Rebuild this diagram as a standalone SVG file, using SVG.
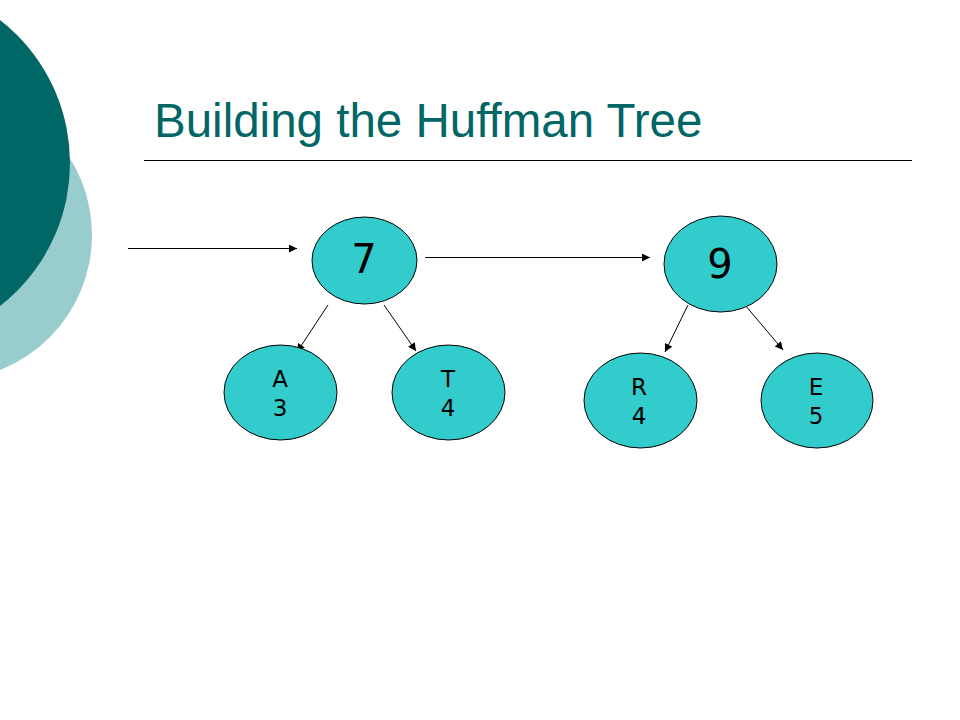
<svg xmlns="http://www.w3.org/2000/svg" width="960" height="720" viewBox="0 0 960 720">
<defs>
<marker id="ah" viewBox="0 0 10 10" refX="10" refY="5" markerWidth="10" markerHeight="8" markerUnits="userSpaceOnUse" orient="auto">
<path d="M0,0 L10,5 L0,10 z" fill="#000"/>
</marker>
<style>
.node ellipse{fill:#33CCCC;stroke:#000;stroke-width:1}
.node text{font-family:"DejaVu Sans","Verdana",sans-serif;fill:#000;text-anchor:middle}
.conn line{stroke:#000;stroke-width:1;marker-end:url(#ah)}
.small{font-size:23px}
.big{font-size:40px}
</style>
</defs>
<rect width="960" height="720" fill="#fff"/>
<g id="decor">
<circle cx="-53" cy="235" r="145" fill="#99CCCC"/>
<circle cx="-111" cy="163" r="181" fill="#006666"/>
</g>
<text x="154" y="137" font-family="Liberation Sans, Arial, sans-serif" font-size="47.5" fill="#006666">Building the Huffman Tree</text>
<line x1="144" y1="160.5" x2="912" y2="160.5" stroke="#000" stroke-width="1"/>
<g id="connectors" class="conn">
<line x1="128" y1="248.5" x2="297" y2="248.5"/>
<line x1="425" y1="257.5" x2="650" y2="257.5"/>
<line x1="328" y1="305" x2="297" y2="352"/>
<line x1="384" y1="305" x2="416" y2="351"/>
<line x1="688" y1="305" x2="665" y2="352"/>
<line x1="745" y1="305" x2="783" y2="350"/>
</g>
<g id="node7" class="node">
<ellipse cx="364.5" cy="260.5" rx="52.5" ry="43.5"/>
<text class="big" x="364" y="273">7</text>
</g>
<g id="node9" class="node">
<ellipse cx="720.5" cy="264" rx="56.5" ry="48"/>
<text class="big" x="720" y="278">9</text>
</g>
<g id="nodeA" class="node">
<ellipse cx="280.5" cy="392.5" rx="56.5" ry="47.5"/>
<text class="small" x="280" y="387">A</text>
<text class="small" x="280" y="416">3</text>
</g>
<g id="nodeT" class="node">
<ellipse cx="448.5" cy="392.5" rx="56.5" ry="47.5"/>
<text class="small" x="448" y="387">T</text>
<text class="small" x="448" y="416">4</text>
</g>
<g id="nodeR" class="node">
<ellipse cx="640.5" cy="400.5" rx="56.5" ry="47.5"/>
<text class="small" x="639" y="395">R</text>
<text class="small" x="639" y="424">4</text>
</g>
<g id="nodeE" class="node">
<ellipse cx="817" cy="400.5" rx="56" ry="47.5"/>
<text class="small" x="816" y="395">E</text>
<text class="small" x="816" y="424">5</text>
</g>
</svg>
